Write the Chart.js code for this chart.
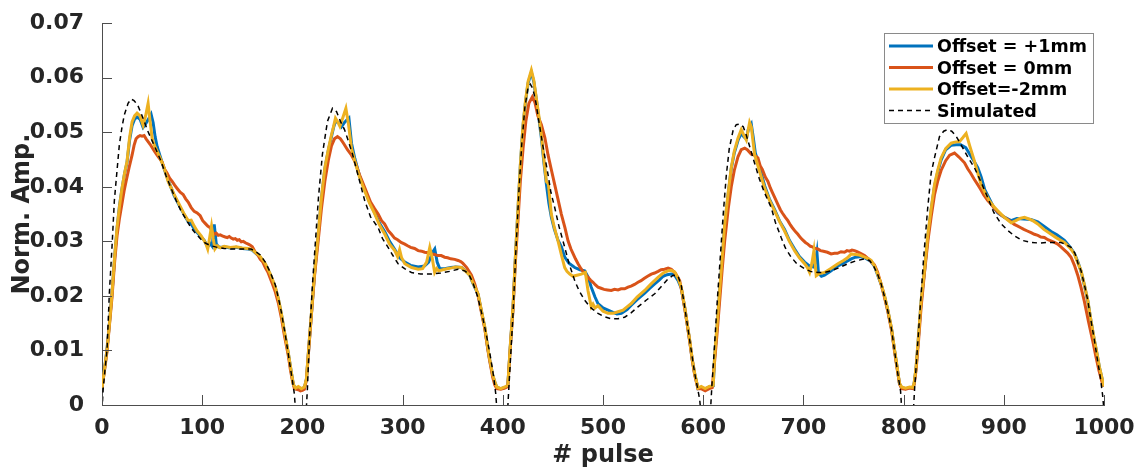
<!DOCTYPE html>
<html>
<head>
<meta charset="utf-8">
<script src="https://cdn.jsdelivr.net/npm/chart.js@4.4.1/dist/chart.umd.min.js"></script>
<style>
  html, body { margin: 0; padding: 0; background: #fff; }
</style>
</head>
<body>
<canvas id="mainChart" width="1142" height="472"></canvas>
<script>
// [pulse, normalised amplitude]
const offsetPlus1 = [
  [0,0.0031],[2.5,0.0066],[5,0.0102],[7.5,0.0152],[10,0.0205],[12.5,0.0268],[15,0.0323],[17.5,0.0366],[20,0.0397],[22.5,0.0424],[25,0.0445],[27.5,0.0485],[30,0.0512],[32.5,0.0524],[35,0.0528],[38,0.0524],[41,0.0509],[43,0.0514],[45,0.052],[47,0.0526],[49,0.0533],[51,0.0518],[53,0.0492],[55,0.0474],[58,0.0456],[62,0.0433],[66,0.0412],[69,0.0398],[72,0.0384],[77,0.0366],[82,0.0349],[86,0.0336],[89,0.0332],[92,0.0323],[95,0.0316],[99,0.0308],[102,0.0302],[105.5,0.029],[108,0.0296],[110,0.0291],[112,0.0331],[114,0.0296],[116,0.029],[119,0.0289],[122,0.029],[128,0.0288],[134,0.0289],[140,0.0287],[146,0.0286],[150,0.0284],[153,0.0279],[158,0.0271],[163,0.0258],[168,0.0239],[173,0.0215],[176,0.0194],[179,0.0167],[182,0.0134],[186,0.0094],[189,0.0059],[191,0.0037],[193,0.003],[196,0.0032],[199,0.003],[202,0.0032],[204,0.0047],
  [206.5,0.0108],[209,0.0167],[212,0.0238],[215.7,0.0311],[219,0.0378],[222.4,0.0433],[226,0.0468],[229,0.0492],[231,0.0508],[233,0.052],[236,0.0518],[239,0.051],[242,0.0518],[244.5,0.0523],[246.4,0.0526],[249,0.048],[252.3,0.0452],[257,0.042],[262.3,0.0395],[267,0.0372],[272.3,0.0352],[277,0.0333],[282.3,0.0317],[287,0.03],[292.2,0.0285],[297,0.027],[302.2,0.0262],[308,0.0256],[315.5,0.0253],[322,0.0255],[326,0.0262],[330,0.028],[332.1,0.0286],[334.5,0.0262],[337,0.025],[342,0.025],[348,0.0252],[353,0.0253],[358.8,0.0252],[363,0.0246],[367,0.0238],[370,0.0224],[375.3,0.0203],[379,0.0169],[382,0.0142],[385,0.0104],[387,0.0082],[390,0.0054],[392,0.0042],[394,0.0032],[398,0.003],[402,0.0032],[405,0.0035],
  [407.5,0.0108],[410.2,0.0178],[412.5,0.0268],[415.2,0.036],[417.5,0.0438],[420.2,0.0512],[422.5,0.0553],[425.2,0.059],[428.5,0.061],[431,0.0592],[433.5,0.056],[436,0.0525],[438.5,0.049],[441,0.0445],[443.5,0.0405],[446,0.037],[448.4,0.0345],[451.5,0.0322],[455.1,0.0302],[458.5,0.029],[461.8,0.0271],[466,0.026],[471.8,0.0252],[477,0.0248],[481.7,0.0246],[485,0.0235],[488.3,0.0216],[492,0.0198],[495,0.0186],[500,0.0178],[505,0.0174],[510,0.017],[514,0.0167],[518.3,0.0168],[524,0.0175],[528.2,0.0183],[534,0.0193],[541.6,0.0205],[546,0.0213],[551.6,0.0222],[556,0.0229],[560,0.0236],[564,0.0239],[568.2,0.024],[571.5,0.0238],[575,0.0228],[578.1,0.0214],[581.5,0.0179],[584,0.0149],[586.5,0.0118],[589,0.0084],[591.5,0.0057],[594.8,0.003],[598,0.0032],[602,0.0029],[606,0.0033],[610,0.0035],
  [611.4,0.0088],[614,0.0148],[616.4,0.0208],[619,0.0268],[621.4,0.0329],[625,0.0388],[628,0.0433],[631,0.0462],[634.7,0.0485],[638,0.0498],[640.5,0.0492],[643,0.0488],[645,0.0505],[648,0.0515],[650,0.049],[652,0.0462],[656,0.0438],[661.3,0.0402],[666,0.0378],[671.3,0.0358],[676,0.0338],[681.2,0.0322],[686,0.0302],[691.2,0.0286],[696,0.0272],[701.2,0.0262],[706,0.0255],[710,0.0253],[712,0.0262],[713.5,0.028],[715,0.0242],[718,0.0236],[721.1,0.0238],[727,0.0245],[734.4,0.0255],[740,0.026],[747.7,0.0268],[752,0.0271],[756,0.0272],[761,0.027],[767.6,0.0263],[771,0.0254],[774,0.0239],[777.6,0.0221],[781,0.0199],[784.3,0.0173],[788,0.0139],[791,0.01],[793.5,0.0069],[795.9,0.0039],[798,0.0032],[802,0.003],[806,0.0032],[809,0.0031],
  [810.5,0.0039],[812.5,0.0069],[815,0.0128],[817.5,0.019],[821,0.0248],[824.2,0.031],[827.5,0.0357],[830.8,0.04],[834,0.0427],[837.4,0.0449],[842,0.0468],[847.4,0.0476],[852.4,0.0477],[857,0.0477],[862,0.0472],[866,0.046],[870,0.0448],[874,0.0435],[877.4,0.0418],[881,0.0395],[885.7,0.0378],[890,0.0362],[894,0.0352],[900,0.0345],[907.3,0.0338],[913,0.0342],[920,0.0341],[927,0.034],[933.9,0.0336],[940,0.0328],[947.2,0.0318],[953,0.0312],[960.5,0.0302],[966,0.029],[970.5,0.0278],[974,0.0262],[977.1,0.0245],[980.5,0.0219],[983.8,0.0191],[987,0.0154],[990.4,0.0118],[993,0.0094],[995.4,0.0069],[998,0.0049],[1000,0.0034]
];

const offsetZero = [
  [0,0.0031],[2.5,0.0063],[5,0.0098],[7.5,0.0148],[10,0.0198],[12.5,0.026],[15,0.031],[17.5,0.0343],[20,0.037],[22,0.0392],[24,0.041],[27,0.0435],[30,0.0458],[32,0.0476],[34,0.0488],[36,0.0492],[38,0.0494],[40,0.0493],[42,0.0494],[44,0.0488],[46,0.0483],[48,0.0478],[50,0.0472],[52.5,0.0465],[55,0.0458],[57.5,0.0452],[60,0.0445],[62.5,0.0432],[65,0.0425],[67.5,0.0416],[70,0.041],[72.5,0.0403],[75,0.0397],[78,0.039],[81,0.0386],[83.5,0.0378],[86,0.0372],[89,0.0362],[92,0.0355],[95,0.0352],[98,0.0347],[100.5,0.0338],[103,0.0333],[105.5,0.0328],[108,0.0325],[110,0.0318],[112,0.0313],[114,0.0315],[116,0.0311],[118,0.0312],[120,0.031],[123,0.0308],[125,0.0307],[127,0.0309],[129,0.0306],[131,0.0304],[133,0.0305],[135,0.0302],[137,0.0303],[139,0.0299],[141,0.03],[143.5,0.0297],[146,0.0295],[148,0.0293],[150,0.029],[153,0.028],[155.5,0.0275],[158,0.0267],[160.5,0.0262],[163,0.0252],[165.5,0.0244],[168,0.0232],[170.5,0.022],[173,0.0207],[176,0.0187],[179,0.016],[182,0.0128],[186,0.009],[188,0.0065],[190,0.0045],[192,0.003],[194,0.0029],[196,0.0028],[198,0.0026],[200,0.0027],[202,0.0029],[204,0.0046],
  [206.5,0.0105],[209,0.0165],[212,0.0235],[215.7,0.03],[219,0.036],[222.4,0.041],[226,0.045],[229,0.0475],[232,0.0488],[235,0.0492],[238,0.0488],[241,0.048],[245,0.0468],[249,0.0458],[252.3,0.0447],[257,0.0422],[262.3,0.0398],[268,0.0372],[272,0.036],[275.6,0.035],[279,0.0338],[282,0.0332],[285.5,0.032],[288.9,0.0313],[292,0.0306],[295,0.0303],[298.5,0.0298],[302.2,0.0295],[305,0.0292],[308,0.0289],[312,0.0287],[315.5,0.0283],[319,0.0282],[322,0.028],[325.5,0.0279],[328.8,0.0277],[332,0.0276],[335,0.0274],[338.5,0.0274],[342,0.0271],[345,0.027],[348,0.0268],[352,0.0267],[355.4,0.0265],[358,0.0263],[360,0.026],[364,0.0252],[368.7,0.0238],[372,0.0222],[375.3,0.0201],[379,0.0167],[382,0.014],[385,0.0102],[387,0.008],[390,0.005],[392,0.0037],[394,0.003],[398,0.0029],[402,0.0031],[405,0.0034],
  [407.5,0.0105],[410.2,0.0175],[412.5,0.026],[415.2,0.034],[417.5,0.041],[420.2,0.047],[423,0.052],[426,0.0553],[429.5,0.0565],[432,0.0555],[435,0.053],[438.5,0.0514],[442,0.049],[445.1,0.0459],[448,0.0435],[451.8,0.0404],[455,0.0378],[458.4,0.035],[462,0.0325],[465.1,0.0301],[468,0.0286],[470,0.0278],[472.5,0.0268],[475.1,0.0259],[478,0.025],[480,0.0245],[482.5,0.024],[485,0.0234],[487.5,0.0229],[490,0.0225],[492.5,0.022],[495,0.0216],[498,0.0214],[501,0.0212],[504.5,0.0211],[508.3,0.021],[511.5,0.0212],[515,0.0211],[518,0.0213],[521.6,0.0213],[525,0.0216],[528,0.0218],[531.5,0.0221],[534.9,0.0225],[538,0.0228],[541,0.0232],[544.5,0.0236],[548.2,0.024],[551.5,0.0242],[555,0.0245],[558,0.0248],[561.5,0.0249],[565,0.0251],[568.2,0.0249],[572,0.0242],[576.5,0.0228],[578.5,0.021],[581.5,0.0178],[584,0.0148],[586.5,0.0117],[589,0.0083],[591.5,0.0055],[594.8,0.003],[598,0.003],[602,0.0026],[606,0.003],[609,0.0032],
  [611.4,0.008],[614,0.0135],[616.4,0.019],[619,0.025],[621.4,0.03],[625,0.036],[628,0.04],[631,0.043],[634.7,0.0455],[638,0.0468],[641.4,0.0471],[644,0.0468],[648,0.046],[651,0.0458],[654.6,0.0453],[657,0.0438],[659,0.0432],[662,0.0418],[664.6,0.041],[667,0.0398],[669,0.039],[672,0.0378],[674.5,0.0368],[677,0.0358],[679,0.0352],[682,0.0344],[684.5,0.0338],[687,0.033],[689,0.0325],[692,0.0318],[694.5,0.0313],[697,0.0307],[699,0.0303],[702,0.0298],[704.4,0.0295],[707,0.0291],[709,0.029],[712,0.0287],[714.4,0.0286],[717,0.0283],[720,0.0282],[724,0.028],[727.7,0.0277],[731,0.0278],[734,0.0278],[737.5,0.0281],[741,0.028],[743.5,0.0283],[746,0.0282],[748.5,0.0284],[751,0.0283],[753.5,0.0281],[756,0.0279],[761,0.0274],[766,0.0266],[770.9,0.0257],[774,0.0244],[777.6,0.0221],[781,0.0197],[784.3,0.0171],[788,0.0137],[791,0.0098],[793.5,0.0067],[795.9,0.0039],[798,0.003],[802,0.0029],[806,0.0031],[809,0.003],
  [810.5,0.0037],[812.5,0.0065],[815,0.012],[817.5,0.018],[821,0.0245],[824.2,0.03],[827.5,0.0345],[830.8,0.0385],[834,0.041],[837.4,0.043],[842,0.0448],[846,0.0458],[850.8,0.0462],[855,0.0455],[860.8,0.0444],[864,0.0433],[867,0.0425],[870.5,0.0414],[874,0.0404],[877,0.0395],[880,0.0385],[884,0.0375],[887.4,0.0368],[891,0.036],[894,0.0354],[897.5,0.0348],[900.7,0.0344],[904,0.034],[907,0.0336],[910.5,0.0331],[914,0.0328],[917,0.0325],[920,0.0322],[923.5,0.0319],[927.2,0.0316],[930.5,0.0313],[934,0.0311],[937,0.0308],[940.5,0.0307],[944,0.0303],[947,0.0301],[950.5,0.0298],[953.8,0.0295],[957,0.029],[960,0.0285],[963.5,0.0279],[967.1,0.0271],[970.5,0.0256],[973.8,0.0238],[977,0.0216],[980.4,0.019],[984.5,0.0153],[988.8,0.0117],[992,0.0088],[995,0.0063],[998,0.0042],[1000,0.0034]
];

const offsetMinus2 = [
  [0,0.0031],[2.5,0.0065],[5,0.0101],[7.5,0.015],[10,0.0204],[12.5,0.027],[15,0.0325],[17.5,0.0365],[20,0.0398],[22.5,0.0425],[25,0.0447],[27.5,0.049],[30,0.0519],[32.5,0.053],[35,0.0535],[38,0.053],[41,0.0513],[43.5,0.053],[46,0.0553],[48,0.052],[50,0.0489],[52.5,0.0475],[55,0.0465],[58,0.0453],[62,0.0435],[66,0.041],[69,0.0398],[72,0.0386],[77,0.0368],[82,0.035],[86,0.0338],[89,0.0339],[92,0.0328],[95,0.0319],[99,0.031],[102,0.0301],[104,0.0294],[105.5,0.0286],[107,0.0302],[109.3,0.0328],[111,0.0305],[112.7,0.0286],[115,0.0292],[118,0.0288],[122,0.0291],[128,0.0289],[134,0.029],[140,0.0288],[146,0.0287],[150,0.0285],[153,0.028],[158,0.0272],[163,0.0259],[168,0.024],[173,0.0216],[176,0.0195],[179,0.0168],[182,0.0135],[186,0.0095],[189,0.006],[191,0.0038],[193,0.0031],[196,0.0034],[199,0.003],[202,0.0033],[204,0.0048],
  [206.5,0.011],[209,0.0168],[212,0.024],[215.7,0.0313],[219,0.038],[222.4,0.0435],[226,0.047],[229,0.0495],[231,0.051],[233,0.0526],[235,0.052],[237.4,0.0511],[240,0.0525],[243.4,0.0544],[246,0.0515],[249,0.047],[252.3,0.0447],[257,0.0418],[262.3,0.0392],[267,0.037],[272.3,0.035],[277,0.033],[282.3,0.0313],[287,0.0295],[292.2,0.0283],[295,0.0272],[297,0.0285],[299,0.027],[302.2,0.0259],[306,0.0255],[309,0.0252],[315.5,0.0249],[320,0.025],[324,0.0262],[327.1,0.0289],[329.5,0.027],[332,0.0243],[334,0.025],[336,0.0246],[342,0.0249],[348,0.0251],[353,0.0253],[358.8,0.0252],[363,0.0245],[367,0.0238],[370,0.0225],[375.3,0.0204],[379,0.017],[382,0.0143],[385,0.0105],[387,0.0083],[390,0.0055],[392,0.0043],[394,0.0033],[398,0.003],[402,0.0033],[405,0.0036],
  [407.5,0.011],[410.2,0.018],[412.5,0.027],[415.2,0.0362],[417.5,0.044],[420.2,0.0514],[422.5,0.0555],[425.2,0.0593],[428.5,0.0614],[431,0.0595],[433.5,0.0562],[436,0.053],[438.5,0.0495],[441,0.045],[443.5,0.041],[445.5,0.0405],[448.4,0.035],[451.5,0.0325],[455.1,0.0301],[458.5,0.0275],[461.8,0.0252],[464,0.0245],[466.8,0.024],[470,0.0236],[474,0.0238],[478.4,0.024],[482.4,0.0243],[485,0.021],[488.3,0.018],[490,0.0185],[492,0.0178],[495,0.0182],[500,0.0172],[505,0.0168],[510,0.0168],[515,0.0171],[520,0.0174],[524,0.018],[528.2,0.0186],[534,0.0198],[541.6,0.021],[548,0.0222],[554.9,0.0234],[560,0.0242],[564.8,0.0246],[568,0.0247],[571.5,0.0244],[575,0.0232],[578.1,0.0216],[581.5,0.018],[584,0.015],[586.5,0.0119],[589,0.0085],[591.5,0.0058],[594.8,0.0031],[598,0.0034],[602,0.003],[606,0.0034],[610,0.0036],
  [611.4,0.0089],[614,0.015],[616.4,0.021],[619,0.027],[621.4,0.0331],[625,0.039],[628,0.0435],[631,0.0465],[634.7,0.0489],[638,0.0505],[640.5,0.0495],[643,0.0486],[646.3,0.0518],[648,0.051],[651.3,0.0459],[656,0.043],[661.3,0.0398],[666,0.0376],[671.3,0.0356],[676,0.0337],[681.2,0.0319],[686,0.03],[691.2,0.0283],[696,0.027],[701.2,0.0259],[704,0.0252],[706.2,0.0243],[708.5,0.026],[710.5,0.0283],[712.8,0.0237],[716,0.0241],[721.1,0.0243],[727,0.025],[734.4,0.0259],[740,0.0265],[744,0.027],[747.7,0.0277],[752,0.0276],[756,0.0275],[761,0.0271],[765,0.0268],[767.6,0.0265],[771,0.0255],[774,0.024],[777.6,0.0222],[781,0.02],[784.3,0.0174],[788,0.014],[791,0.0101],[793.5,0.007],[795.9,0.004],[798,0.0033],[802,0.0031],[806,0.0033],[809,0.0032],
  [810.5,0.004],[812.5,0.007],[815,0.013],[817.5,0.0192],[821,0.025],[824.2,0.0313],[827.5,0.036],[830.8,0.0404],[834,0.043],[837.4,0.0453],[842,0.047],[847.4,0.048],[851,0.0482],[855.8,0.0483],[859,0.049],[862.4,0.0498],[866,0.0475],[870.7,0.0447],[874,0.0425],[877.4,0.0404],[881,0.039],[885.7,0.0374],[890,0.0364],[894,0.0356],[900,0.0345],[907.3,0.0334],[912,0.0338],[916,0.0342],[920.6,0.0344],[925,0.0341],[929,0.0338],[933.9,0.0332],[940,0.0322],[947.2,0.0313],[953,0.0306],[960.5,0.0298],[966,0.0288],[970.5,0.0277],[974,0.026],[977.1,0.0246],[980.5,0.022],[983.8,0.0192],[987,0.0155],[990.4,0.0119],[993,0.0095],[995.4,0.007],[998,0.005],[1000,0.0034]
];

const simulated = [
  [0,-0.001],[1.2,0.003],[3,0.0065],[5,0.01],[7.3,0.0204],[10,0.029],[12.3,0.0374],[15,0.043],[17.3,0.0477],[20,0.051],[22.3,0.0532],[26,0.0553],[29,0.0561],[32,0.0558],[35.6,0.055],[39,0.0535],[42.3,0.0519],[45.5,0.0503],[48.9,0.0489],[54,0.0468],[58.9,0.0447],[64,0.042],[68.8,0.0398],[74,0.0375],[78.8,0.0356],[84,0.034],[88.8,0.0325],[94,0.0313],[98.7,0.0304],[103,0.0297],[108.7,0.0292],[115,0.0289],[122,0.0287],[128.6,0.0286],[135,0.0286],[142,0.0286],[148.6,0.0286],[153,0.0282],[158,0.0275],[163,0.0262],[168,0.0243],[173,0.022],[178,0.018],[183,0.0128],[187,0.008],[190,0.0045],[192,0.002],[193.5,-0.002],[203.5,-0.002],
  [205,0.003],[207,0.012],[210,0.022],[213,0.03],[216,0.038],[220,0.046],[225,0.052],[230,0.0544],[234,0.0538],[238,0.052],[242,0.0505],[246,0.0483],[250,0.046],[255,0.0425],[262.3,0.0374],[268,0.0345],[275.6,0.0325],[280,0.0305],[285.5,0.0289],[290,0.0275],[295.5,0.0259],[302,0.025],[308.8,0.0243],[318,0.024],[328.8,0.024],[338,0.0242],[347,0.0245],[355.4,0.0249],[362,0.0246],[366,0.024],[370,0.0225],[375,0.0198],[380,0.016],[384,0.0125],[388,0.0085],[391,0.005],[393,0.002],[394.5,-0.002],[404.5,-0.002],
  [406,0.003],[410,0.016],[413,0.028],[416,0.039],[419,0.048],[422,0.0545],[425,0.058],[427.5,0.0588],[430,0.058],[433,0.0555],[436,0.052],[440,0.0475],[445.1,0.0423],[448,0.039],[451.8,0.0362],[456,0.0328],[461.8,0.0289],[466,0.026],[471.8,0.0228],[476,0.021],[481.7,0.0192],[488,0.0178],[495,0.0168],[501,0.0162],[508.3,0.0158],[515,0.0158],[521.6,0.0161],[528,0.0169],[534.9,0.018],[543,0.0192],[551.6,0.0204],[558,0.0217],[564.8,0.0231],[570,0.0238],[574.8,0.0237],[578,0.022],[581.5,0.018],[586.5,0.0119],[591.5,0.0058],[594,0.0035],[596.5,0.001],[598,-0.002],[607,-0.002],
  [608.5,0.003],[611,0.01],[614,0.019],[617,0.027],[620,0.035],[623,0.042],[626,0.047],[630,0.0505],[633,0.0514],[636.4,0.0515],[640,0.051],[643,0.0495],[647,0.047],[651,0.0445],[656,0.0415],[661,0.039],[667.9,0.0362],[672,0.0335],[677.8,0.0307],[682,0.0288],[687.8,0.0271],[694,0.0258],[701.2,0.025],[707,0.0245],[714.4,0.0243],[721,0.0243],[727.7,0.0246],[736,0.0252],[744.3,0.0259],[752,0.0264],[761,0.0268],[766,0.0265],[770,0.0255],[774,0.024],[777.6,0.0222],[781,0.0198],[784.3,0.0172],[788,0.0138],[791,0.0099],[794,0.006],[797,0.0025],[798.5,-0.002],[809.5,-0.002],
  [811,0.003],[814,0.011],[817,0.019],[820,0.027],[824,0.036],[827.5,0.0425],[830.8,0.0453],[835.8,0.0492],[840,0.0502],[844.1,0.0505],[848,0.0502],[852,0.0494],[857.4,0.0477],[864,0.0455],[870.7,0.0435],[877,0.041],[884,0.038],[890,0.0353],[897.4,0.0332],[904,0.032],[910.6,0.031],[918,0.0302],[927.2,0.0298],[935,0.0297],[943.8,0.0298],[950,0.0298],[957.1,0.0298],[962,0.0294],[967.1,0.0289],[971,0.0278],[974,0.026],[977.1,0.0246],[980.5,0.022],[983.8,0.0192],[987,0.0155],[990.4,0.0119],[993,0.0088],[996,0.0055],[998.5,0.002],[1000,-0.001]
];

const seriesLabels = ['Offset = +1mm', 'Offset = 0mm', 'Offset=-2mm', 'Simulated'];
const xTitle = '# pulse';
const yTitle = 'Norm. Amp.';

const AXIS_COLOR = '#4d4d4d';
const TEXT_COLOR = '#262626';
const FONT = 'DejaVu Sans';

function toPoints(pairs) {
    return pairs.map(p => ({ x: p[0], y: p[1] }));
}

// MATLAB style inward tick marks
const inwardTicks = {
    id: 'inwardTicks',
    afterDatasetsDraw(chart) {
        const { ctx, chartArea, scales } = chart;
        ctx.save();
        ctx.strokeStyle = AXIS_COLOR;
        ctx.lineWidth = 1;
        ctx.beginPath();
        scales.x.ticks.forEach(t => {
            const px = Math.round(scales.x.getPixelForValue(t.value)) + 0.5;
            ctx.moveTo(px, chartArea.bottom);
            ctx.lineTo(px, chartArea.bottom - 10);
        });
        scales.y.ticks.forEach(t => {
            const py = Math.round(scales.y.getPixelForValue(t.value)) + 0.5;
            ctx.moveTo(chartArea.left, py);
            ctx.lineTo(chartArea.left + 10, py);
        });
        ctx.stroke();
        ctx.restore();
    }
};

// boxed legend inside the axes, top right
const boxLegend = {
    id: 'boxLegend',
    afterDraw(chart) {
        const ctx = chart.ctx;
        const box = { x: 884.5, y: 33.5, w: 209, h: 90 };
        const rows = [46, 67.5, 89, 110.5];
        ctx.save();
        ctx.fillStyle = '#ffffff';
        ctx.fillRect(box.x, box.y, box.w, box.h);
        ctx.strokeStyle = '#8a8a8a';
        ctx.lineWidth = 1;
        ctx.strokeRect(box.x, box.y, box.w, box.h);
        ctx.font = 'bold 17.5px "' + FONT + '"';
        ctx.textBaseline = 'alphabetic';
        chart.data.datasets.forEach((ds, i) => {
            const y = rows[i];
            ctx.strokeStyle = ds.borderColor;
            ctx.lineWidth = ds.borderDash && ds.borderDash.length ? 1.3 : ds.borderWidth;
            ctx.setLineDash(ds.borderDash || []);
            ctx.beginPath();
            ctx.moveTo(889, y);
            ctx.lineTo(933, y);
            ctx.stroke();
            ctx.setLineDash([]);
            ctx.fillStyle = '#000000';
            ctx.fillText(ds.label, 937, y + 6.4);
        });
        ctx.restore();
    }
};

function initChart() {
    const ctx = document.getElementById('mainChart').getContext('2d');
    const lineBase = { pointRadius: 0, pointHoverRadius: 0, tension: 0, fill: false };
    new Chart(ctx, {
        type: 'line',
        data: {
            datasets: [
                { ...lineBase, label: seriesLabels[0], data: toPoints(offsetPlus1), borderColor: '#0072BD', borderWidth: 3, order: 4 },
                { ...lineBase, label: seriesLabels[1], data: toPoints(offsetZero), borderColor: '#D95319', borderWidth: 3, order: 3 },
                { ...lineBase, label: seriesLabels[2], data: toPoints(offsetMinus2), borderColor: '#EDB120', borderWidth: 3, order: 2 },
                { ...lineBase, label: seriesLabels[3], data: toPoints(simulated), borderColor: '#000000', borderWidth: 1.5, borderDash: [5, 4], order: 1 }
            ]
        },
        options: {
            responsive: false,
            animation: false,
            events: [],
            layout: { padding: { top: 21, right: 38, left: 0, bottom: 0 } },
            plugins: { legend: { display: false }, tooltip: { enabled: false } },
            scales: {
                x: {
                    type: 'linear', min: 0, max: 1000,
                    grid: { display: false },
                    border: { display: true, color: AXIS_COLOR, width: 1 },
                    ticks: { stepSize: 100, padding: 2, color: TEXT_COLOR, maxRotation: 0,
                             font: { family: FONT, size: 22, weight: 'bold' },
                             callback: v => String(v) },
                    title: { display: true, text: xTitle, color: TEXT_COLOR, padding: { top: 0, bottom: 2 },
                             font: { family: FONT, size: 24, weight: 'bold' } },
                    afterFit(scale) { scale.height = 67; }
                },
                y: {
                    type: 'linear', min: 0, max: 0.07,
                    grid: { display: false },
                    border: { display: true, color: AXIS_COLOR, width: 1 },
                    ticks: { stepSize: 0.01, padding: 10, color: TEXT_COLOR,
                             font: { family: FONT, size: 22, weight: 'bold' },
                             callback: v => (v === 0 ? '0' : v.toFixed(2)) },
                    title: { display: true, text: yTitle, color: TEXT_COLOR, padding: { top: 8, bottom: 0 },
                             font: { family: FONT, size: 24, weight: 'bold' } },
                    afterFit(scale) { scale.width = 102; }
                }
            }
        },
        plugins: [inwardTicks, boxLegend]
    });
}

initChart();
</script>
</body>
</html>
